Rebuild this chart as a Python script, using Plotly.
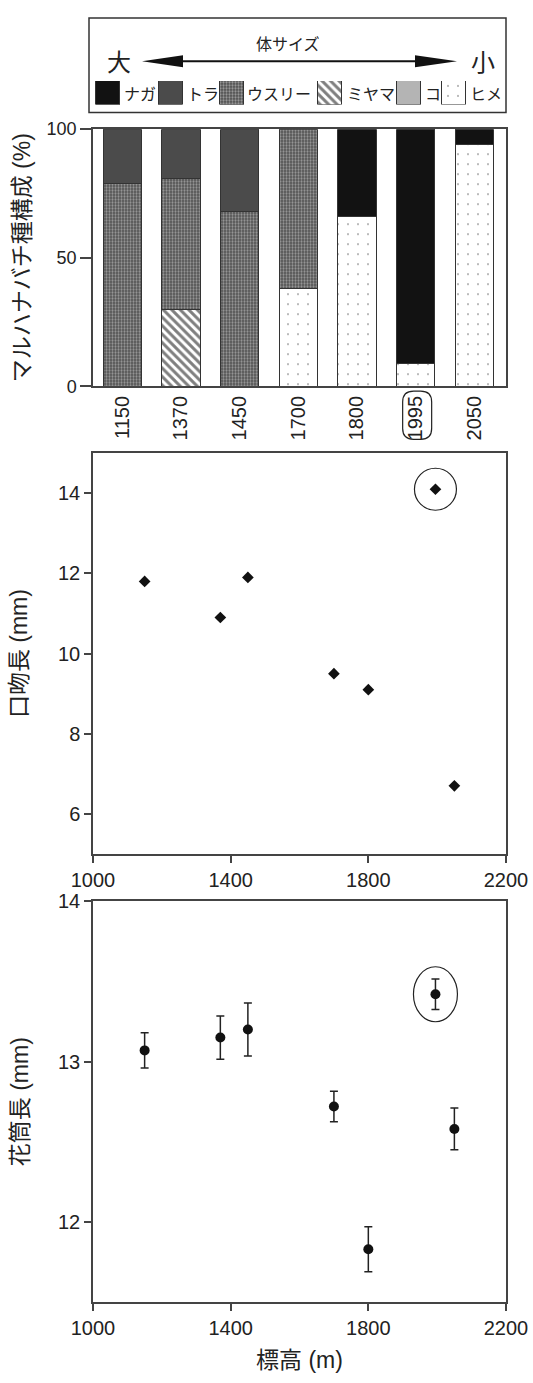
import plotly.graph_objects as go

# ---------------- data ----------------
sites = ["1150", "1370", "1450", "1700", "1800", "1995", "2050"]
species = ["ナガ", "トラ", "ウスリー", "ミヤマ", "コ", "ヒメ"]
pct_naga = [None, None, None, None, 34, 91, 6]
pct_tora = [21, 19, 32, None, None, None, None]
pct_usuri = [79, 51, 68, 62, None, None, None]
pct_miyama = [None, 30, None, None, None, None, None]
pct_ko = [None, None, None, None, None, None, None]
pct_hime = [None, None, None, 38, 66, 9, 94]

elevation = [1150, 1370, 1450, 1700, 1800, 1995, 2050]
proboscis_mm = [11.8, 10.9, 11.9, 9.5, 9.1, 14.1, 6.7]
tube_mm = [13.07, 13.15, 13.20, 12.72, 11.83, 13.42, 12.58]
tube_err = [0.11, 0.135, 0.165, 0.095, 0.14, 0.095, 0.13]

highlight_site = "1995"
highlight_elev = 1995
highlight_proboscis = 14.1
highlight_tube = 13.42

pct_by_species = {
    "ナガ": pct_naga, "トラ": pct_tora, "ウスリー": pct_usuri,
    "ミヤマ": pct_miyama, "コ": pct_ko, "ヒメ": pct_hime,
}

# ---------------- styles ----------------
W, H = 533, 1383
ML, MR = 93, 27
PW = W - ML - MR
LINE = "#444444"
TXT = "#222222"
LATIN = "Liberation Sans, Arial, Noto Sans CJK JP"
CJK = "Noto Sans CJK JP, Liberation Sans"

STYLE = {
    "ナガ": dict(color="#121212"),
    "トラ": dict(color="#4b4b4b"),
    "ウスリー": dict(color="#888888", pattern=dict(shape=".", fgcolor="#e2e2e2", bgcolor="#4e4e4e", size=3, solidity=0.45)),
    "ミヤマ": dict(color="#ffffff", pattern=dict(shape="\\", fgcolor="#000000", bgcolor="#ffffff", size=6, solidity=0.5)),
    "コ": dict(color="#b4b4b4"),
    "ヒメ": dict(color="#ffffff", pattern=dict(shape=".", fgcolor="#555555", bgcolor="#ffffff", size=10, solidity=0.035)),
}
stack_order = ["ヒメ", "コ", "ミヤマ", "ウスリー", "トラ", "ナガ"]

LEG_SWATCH_X = [107.5, 170, 231.5, 329.5, 408.5, 453.5]
LEG_TEXT_X = [122, 185, 245, 345, 423, 468]


def px(x):
    return (x - ML) / PW


def py(y):
    return 1 - y / H


fig = go.Figure()

# stacked composition bars
for sp in stack_order:
    st = STYLE[sp]
    fig.add_trace(go.Bar(
        x=sites, y=pct_by_species[sp], name=sp, xaxis="x", yaxis="y",
        marker=dict(color=st["color"], pattern=st.get("pattern", dict(shape="")),
                    line=dict(color="#333333", width=1)),
        showlegend=False,
    ))

# legend swatches (own small axis)
for i, sp in enumerate(species):
    st = STYLE[sp]
    fig.add_trace(go.Bar(
        x=[LEG_SWATCH_X[i]], y=[1], width=[24], xaxis="x4", yaxis="y4",
        marker=dict(color=st["color"], pattern=st.get("pattern", dict(shape="")),
                    line=dict(color="#333333", width=1)),
        showlegend=False, hoverinfo="skip",
    ))

# proboscis length
fig.add_trace(go.Scatter(
    x=elevation, y=proboscis_mm, mode="markers", xaxis="x2", yaxis="y2",
    marker=dict(symbol="diamond", size=9, color="#111111"), showlegend=False,
))

# corolla tube length
fig.add_trace(go.Scatter(
    x=elevation, y=tube_mm, mode="markers", xaxis="x3", yaxis="y3",
    marker=dict(symbol="circle", size=10, color="#111111"),
    error_y=dict(type="data", array=tube_err, color="#222222", thickness=1.5, width=4),
    showlegend=False,
))

tickfont = dict(family=LATIN, size=20, color=TXT)
tickfont_bar_y = dict(family=LATIN, size=18, color=TXT)
titlefont = dict(family=LATIN, size=23, color=TXT)
common = dict(showline=True, linecolor=LINE, linewidth=1.5, mirror=True,
              showgrid=False, zeroline=False,
              tickcolor=LINE, tickwidth=1.5)

d_bar = [py(381), py(120)]
d_mid = [py(856), py(449)]
d_bot = [py(1311), py(904)]

fig.update_layout(
    width=W, height=H,
    margin=dict(l=ML, r=MR, t=0, b=0),
    paper_bgcolor="white", plot_bgcolor="white",
    barmode="stack", bargap=0.35,
    xaxis=dict(domain=[0, 1], anchor="y", type="category", range=[-0.5, 6.54],
               tickangle=-90, ticks="", tickfont=tickfont, **common),
    yaxis=dict(domain=d_bar, anchor="x", range=[0, 100], tickvals=[0, 50, 100],
               ticks="outside", ticklen=11, tickfont=tickfont_bar_y,
               title=dict(text="マルハナバチ種構成 (%)", font=titlefont, standoff=10), **common),
    xaxis2=dict(domain=[0, 1], anchor="y2", range=[1000, 2200], tickvals=[1000, 1400, 1800, 2200],
                ticks="outside", ticklen=7, tickfont=tickfont, **common),
    yaxis2=dict(domain=d_mid, anchor="x2", range=[5, 15], tickvals=[6, 8, 10, 12, 14],
                ticks="outside", ticklen=7, tickfont=tickfont,
                title=dict(text="口吻長 (mm)", font=titlefont, standoff=24), **common),
    xaxis3=dict(domain=[0, 1], anchor="y3", range=[1000, 2200], tickvals=[1000, 1400, 1800, 2200],
                ticks="outside", ticklen=7, tickfont=tickfont,
                title=dict(text="標高 (m)", font=titlefont, standoff=14), **common),
    yaxis3=dict(domain=d_bot, anchor="x3", range=[11.5, 14], tickvals=[12, 13, 14],
                ticks="outside", ticklen=7, tickfont=tickfont,
                title=dict(text="花筒長 (mm)", font=titlefont, standoff=23), **common),
    xaxis4=dict(domain=[0, 1], anchor="y4", range=[ML, W - MR], visible=False),
    yaxis4=dict(domain=[py(95), py(71)], anchor="x4", range=[0, 1], visible=False),
)

shapes = []
# legend box
shapes.append(dict(type="rect", xref="paper", yref="paper", x0=px(89), x1=px(506), y0=py(103), y1=py(7),
                   line=dict(color="#333333", width=1.5), fillcolor="rgba(0,0,0,0)", layer="below"))
# arrow
shapes.append(dict(type="line", xref="paper", yref="paper", x0=px(180), x1=px(418), y0=py(51), y1=py(51),
                   line=dict(color="#111111", width=2)))
shapes.append(dict(type="path", xref="paper", yref="paper",
                   path=f"M {px(142)},{py(51)} L {px(183)},{py(45)} L {px(183)},{py(57)} Z",
                   fillcolor="#111111", line=dict(width=0)))
shapes.append(dict(type="path", xref="paper", yref="paper",
                   path=f"M {px(457)},{py(51)} L {px(415)},{py(45)} L {px(415)},{py(57)} Z",
                   fillcolor="#111111", line=dict(width=0)))

# rounded box around highlighted site label (x anchored to the category, y in paper)
bx0, bx1, r = -13, 16, 11
yt, yb, ry = py(386), py(435), 11 / H
rpath = (f"M {bx0 + r},{yt} L {bx1 - r},{yt} Q {bx1},{yt} {bx1},{yt - ry} L {bx1},{yb + ry} "
         f"Q {bx1},{yb} {bx1 - r},{yb} L {bx0 + r},{yb} Q {bx0},{yb} {bx0},{yb + ry} "
         f"L {bx0},{yt - ry} Q {bx0},{yt} {bx0 + r},{yt} Z")
shapes.append(dict(type="path", xref="x", yref="paper", xsizemode="pixel",
                   xanchor=sites.index(highlight_site), path=rpath,
                   line=dict(color="#222222", width=1.2)))
# circle around highlighted proboscis point
shapes.append(dict(type="circle", xref="x2", yref="y2", xsizemode="pixel", ysizemode="pixel",
                   xanchor=highlight_elev, yanchor=highlight_proboscis,
                   x0=-21, x1=21, y0=-21, y1=21, line=dict(color="#222222", width=1.2)))
# ellipse around highlighted tube point
shapes.append(dict(type="circle", xref="x3", yref="y3", xsizemode="pixel", ysizemode="pixel",
                   xanchor=highlight_elev, yanchor=highlight_tube,
                   x0=-22, x1=22, y0=-27.5, y1=27.5, line=dict(color="#222222", width=1.2)))
fig.update_layout(shapes=shapes)

ann = []
ann.append(dict(text="体サイズ", x=px(288), y=py(33), xref="paper", yref="paper", showarrow=False,
                font=dict(family=CJK, size=16, color=TXT), xanchor="center", yanchor="middle"))
ann.append(dict(text="大", x=px(119), y=py(50), xref="paper", yref="paper", showarrow=False,
                font=dict(family=CJK, size=24, color=TXT), xanchor="center", yanchor="middle"))
ann.append(dict(text="小", x=px(483), y=py(50), xref="paper", yref="paper", showarrow=False,
                font=dict(family=CJK, size=24, color=TXT), xanchor="center", yanchor="middle"))
for i, sp in enumerate(species):
    ann.append(dict(text=sp, x=px(LEG_TEXT_X[i]), y=py(83), xref="paper", yref="paper", showarrow=False,
                    font=dict(family=CJK, size=16, color=TXT), xanchor="left", yanchor="middle"))
fig.update_layout(annotations=ann)

fig.write_html(
    "out.html",
    config={"displayModeBar": False},
    post_script="document.body.style.margin='0';document.body.style.padding='0';"
                "document.documentElement.style.overflow='hidden';",
)
